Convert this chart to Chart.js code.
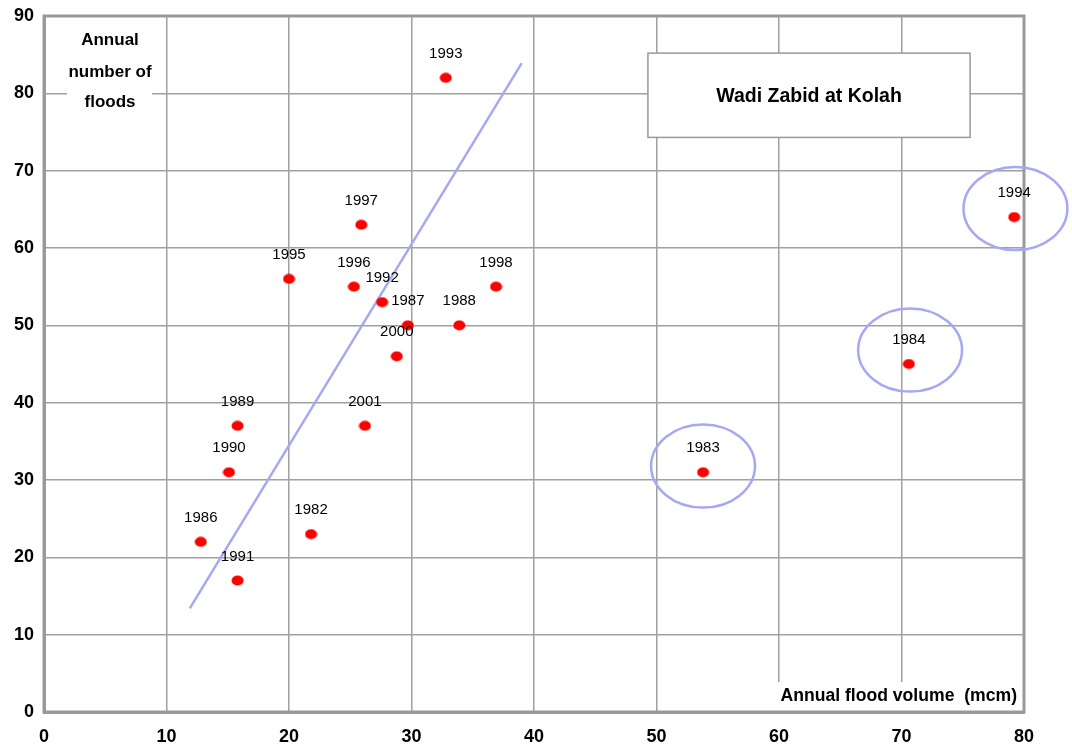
<!DOCTYPE html>
<html>
<head>
<meta charset="utf-8">
<style>
  body { margin: 0; background: #fff; }
  canvas { display: block; }
</style>
<script src="https://cdn.jsdelivr.net/npm/chart.js@4/dist/chart.umd.min.js"></script>
</head>
<body>
<canvas id="chart" width="1072" height="749"></canvas>
<script>
'use strict';

// values
const years   = ['1982', '1983', '1984', '1986', '1987', '1988', '1989', '1990', '1991',
                 '1992', '1993', '1994', '1995', '1996', '1997', '1998', '2000', '2001'];
const volumes = [21.8, 53.8, 70.6, 12.8, 29.7, 33.9, 15.8, 15.1, 15.8,
                 27.6, 32.8, 79.2, 20.0, 25.3, 25.9, 36.9, 28.8, 26.2];
const floods  = [23, 31, 45, 22, 50, 50, 37, 31, 17,
                 53, 82, 64, 56, 55, 63, 55, 46, 37];

const trendX = [11.9, 39.0];
const trendY = [13.4, 83.9];

// outliers ringed in the picture (centre x, centre y in data units)
const ringX = [53.8, 70.7, 79.3];
const ringY = [31.8, 46.8, 65.1];

const xTicks = [0, 10, 20, 30, 40, 50, 60, 70, 80];
const yTicks = [0, 10, 20, 30, 40, 50, 60, 70, 80, 90];

const FONT = '"Liberation Sans", Arial, sans-serif';
const GRID = '#a0a0a0';
const RING = '#a6a9f2';

// red dots are slightly wider than tall
function dotImage() {
  const c = document.createElement('canvas');
  c.width = 13; c.height = 11;
  const g = c.getContext('2d');
  g.fillStyle = '#ff0000';
  g.beginPath();
  g.ellipse(6.5, 5.5, 6, 5, 0, 0, Math.PI * 2);
  g.fill();
  return c;
}

const decorPlugin = {
  id: 'decor',
  beforeDatasetsDraw(chart) {
    const ctx = chart.ctx;
    const a = chart.chartArea;
    const sx = chart.scales.x, sy = chart.scales.y;
    ctx.save();

    // y axis title, sits on a white patch over the grid
    ctx.fillStyle = '#fff';
    ctx.fillRect(a.left + 23, a.top + 2, 85, 100);
    ctx.fillStyle = '#000';
    ctx.font = 'bold 17px ' + FONT;
    ctx.textAlign = 'center';
    ctx.textBaseline = 'middle';
    const cx = a.left + 66;
    ctx.fillText('Annual', cx, a.top + 24);
    ctx.fillText('number of', cx, a.top + 56);
    ctx.fillText('floods', cx, a.top + 86);

    // x axis title, bottom right
    ctx.fillStyle = '#fff';
    ctx.fillRect(a.right - 252, a.bottom - 30, 251, 29);
    ctx.fillStyle = '#000';
    ctx.font = 'bold 17.6px ' + FONT;
    ctx.textAlign = 'right';
    ctx.fillText('Annual flood volume  (mcm)', a.right - 7, a.bottom - 16);

    // title box
    const bx = sx.getPixelForValue(49.3), bx2 = sx.getPixelForValue(75.6);
    const by = sy.getPixelForValue(85.2), by2 = sy.getPixelForValue(74.3);
    ctx.fillStyle = '#fff';
    ctx.fillRect(bx, by, bx2 - bx, by2 - by);
    ctx.strokeStyle = '#999';
    ctx.lineWidth = 1.5;
    ctx.strokeRect(bx, by, bx2 - bx, by2 - by);
    ctx.fillStyle = '#000';
    ctx.font = 'bold 19.5px ' + FONT;
    ctx.textAlign = 'center';
    ctx.fillText('Wadi Zabid at Kolah', (bx + bx2) / 2, (by + by2) / 2 + 1);

    // frame
    ctx.strokeStyle = '#999';
    ctx.lineWidth = 3;
    ctx.strokeRect(a.left, a.top, a.right - a.left, a.bottom - a.top);
    ctx.restore();
  },
  afterDatasetsDraw(chart) {
    const ctx = chart.ctx;
    const sx = chart.scales.x, sy = chart.scales.y;
    ctx.save();

    // rings
    ctx.strokeStyle = RING;
    ctx.lineWidth = 2.5;
    const rx = sx.getPixelForValue(4.24) - sx.getPixelForValue(0);
    const ry = sy.getPixelForValue(0) - sy.getPixelForValue(5.37);
    ringX.forEach((v, i) => {
      ctx.beginPath();
      ctx.ellipse(sx.getPixelForValue(v), sy.getPixelForValue(ringY[i]), rx, ry, 0, 0, Math.PI * 2);
      ctx.stroke();
    });

    // year labels
    ctx.fillStyle = '#000';
    ctx.font = '15px ' + FONT;
    ctx.textAlign = 'center';
    ctx.textBaseline = 'middle';
    chart.getDatasetMeta(0).data.forEach((pt, i) => {
      ctx.fillText(years[i], pt.x, pt.y - 24);
    });
    ctx.restore();
  }
};

new Chart(document.getElementById('chart'), {
  type: 'scatter',
  data: {
    datasets: [{
      data: volumes.map((v, i) => ({ x: v, y: floods[i] })),
      pointStyle: dotImage(),
      order: 1
    }, {
      type: 'line',
      data: trendX.map((v, i) => ({ x: v, y: trendY[i] })),
      borderColor: RING,
      borderWidth: 2.5,
      pointRadius: 0,
      fill: false,
      order: 2
    }]
  },
  options: {
    responsive: false,
    animation: false,
    layout: { padding: { top: 16, right: 48, left: 0, bottom: 0 } },
    plugins: { legend: { display: false }, tooltip: { enabled: false } },
    scales: {
      x: {
        type: 'linear',
        min: 0, max: 80,
        afterBuildTicks: s => { s.ticks = xTicks.map(v => ({ value: v })); },
        afterFit: s => { s.height = 37; s.paddingLeft = 0; s.paddingRight = 0; },
        grid: { color: GRID, lineWidth: 1.5, drawTicks: false },
        border: { color: '#999', width: 3 },
        ticks: { padding: 14, color: '#000', font: { family: FONT, size: 18, weight: 'bold' } }
      },
      y: {
        type: 'linear',
        min: 0, max: 90,
        afterBuildTicks: s => { s.ticks = yTicks.map(v => ({ value: v })); },
        afterFit: s => { s.width = 44; s.paddingTop = 0; s.paddingBottom = 0; },
        grid: { color: GRID, lineWidth: 1.5, drawTicks: false },
        border: { color: '#999', width: 3 },
        ticks: { padding: 10, color: '#000', font: { family: FONT, size: 18, weight: 'bold' } }
      }
    }
  },
  plugins: [decorPlugin]
});
</script>
</body>
</html>
